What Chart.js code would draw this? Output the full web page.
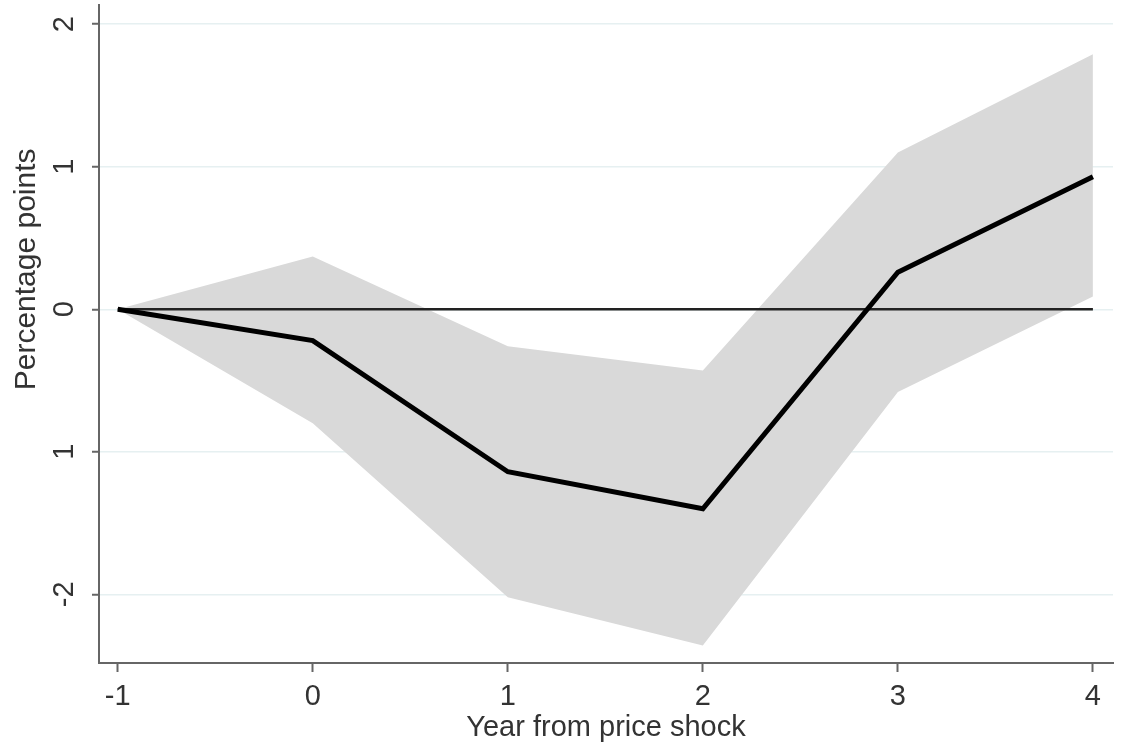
<!DOCTYPE html>
<html>
<head>
<meta charset="utf-8">
<script src="https://cdn.jsdelivr.net/npm/chart.js@4"></script>
<style>
  body { margin: 0; background: #fff; }
  #wrap { width: 1129px; height: 746px; position: relative; }
</style>
</head>
<body>
<div id="wrap"><canvas id="myChart"></canvas></div>
<script>
// Data
const years = [-1, 0, 1, 2, 3, 4];
const estimate = [0, -0.22, -1.14, -1.40, 0.26, 0.93];
const upper = [0, 0.37, -0.26, -0.43, 1.10, 1.79];
const lower = [0, -0.80, -2.02, -2.36, -0.58, 0.09];
const zeroLine = [0, 0, 0, 0, 0, 0];

const xTicks = [-1, 0, 1, 2, 3, 4];
const yTicks = [-2, -1, 0, 1, 2];
const yTickLabels = ["-2", "1", "0", "1", "2"];
const yTitle = "Percentage points";

const fontFamily = "'Liberation Sans', Arial, sans-serif";
const textColor = "#333";

const pts = (ys) => years.map((x, i) => ({ x: x, y: ys[i] }));

// y tick labels and title are rotated in the original and the title sits
// above centre, so they're drawn here instead of by the scale
const rotatedYLabels = {
  id: "rotatedYLabels",
  afterDraw(chart) {
    const ctx = chart.ctx;
    const y = chart.scales.y;
    ctx.save();
    ctx.fillStyle = textColor;
    ctx.textAlign = "center";
    ctx.textBaseline = "middle";
    ctx.font = "29px " + fontFamily;
    yTicks.forEach((v, i) => {
      ctx.save();
      ctx.translate(65, y.getPixelForValue(v));
      ctx.rotate(-Math.PI / 2);
      ctx.fillText(yTickLabels[i], 0, 0);
      ctx.restore();
    });
    ctx.font = "30px " + fontFamily;
    ctx.translate(27, y.getPixelForValue(0.28));
    ctx.rotate(-Math.PI / 2);
    ctx.fillText(yTitle, 0, 0);
    ctx.restore();
  },
};

const data = {
  datasets: [
    {
      label: "upper",
      data: pts(upper),
      borderWidth: 0,
      pointRadius: 0,
      backgroundColor: "#d9d9d9",
      fill: "+1",
      order: 3,
    },
    {
      label: "lower",
      data: pts(lower),
      borderWidth: 0,
      pointRadius: 0,
      fill: false,
      order: 4,
    },
    {
      label: "zero",
      data: pts(zeroLine),
      borderColor: "#222",
      borderWidth: 2.5,
      pointRadius: 0,
      fill: false,
      order: 2,
    },
    {
      label: "estimate",
      data: pts(estimate),
      borderColor: "#000",
      borderWidth: 5,
      pointRadius: 0,
      fill: false,
      order: 1,
    },
  ],
};

const config = {
  type: "line",
  data: data,
  options: {
    responsive: true,
    maintainAspectRatio: false,
    animation: false,
    layout: {
      padding: { top: 5, right: 16, left: 0, bottom: 0 },
    },
    scales: {
      x: {
        type: "linear",
        min: -1.096,
        max: 4.103,
        afterBuildTicks: (scale) => {
          scale.ticks = xTicks.map((v) => ({ value: v }));
        },
        afterFit: (scale) => {
          scale.height = 83;
        },
        border: { display: true, color: "#666", width: 2 },
        grid: {
          drawOnChartArea: false,
          drawTicks: true,
          tickLength: 9,
          tickColor: "#666",
          tickWidth: 2,
        },
        ticks: {
          color: textColor,
          font: { size: 29, family: fontFamily },
          padding: 8,
          maxRotation: 0,
        },
        title: {
          display: true,
          text: "Year from price shock",
          color: textColor,
          font: { size: 29, family: fontFamily, lineHeight: 1 },
          padding: { top: 0, bottom: 4 },
        },
      },
      y: {
        type: "linear",
        min: -2.482,
        max: 2.135,
        afterBuildTicks: (scale) => {
          scale.ticks = yTicks.map((v) => ({ value: v }));
        },
        afterFit: (scale) => {
          scale.width = 99;
        },
        border: { display: true, color: "#666", width: 2 },
        grid: {
          color: "#e6f0f1",
          lineWidth: 1.5,
          drawTicks: true,
          tickLength: 7,
          tickColor: "#666",
          tickWidth: 2,
        },
        ticks: { display: false },
        title: { display: false },
      },
    },
    plugins: {
      legend: { display: false },
      tooltip: { enabled: false },
    },
  },
  plugins: [rotatedYLabels],
};

const myChart = new Chart(document.getElementById("myChart"), config);
</script>
</body>
</html>
